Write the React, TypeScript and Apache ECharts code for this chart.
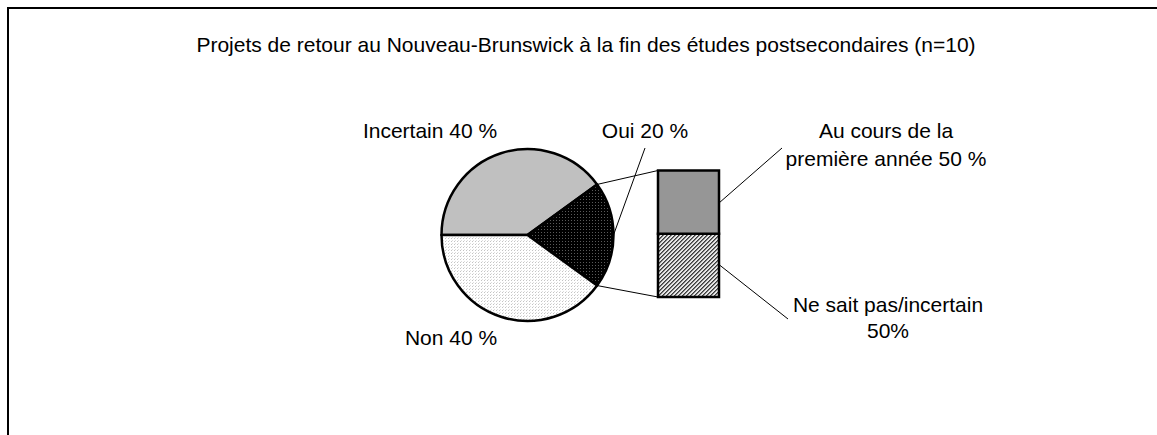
import React, { useEffect, useRef } from 'react';
import * as echarts from 'echarts';

const TITLE = 'Projets de retour au Nouveau-Brunswick à la fin des études postsecondaires (n=10)';
const pieNames = ['Incertain', 'Oui', 'Non'];
const pieValues = [40, 20, 40];
const barCategory = ['Oui'];
const barNames = ['Ne sait pas/incertain', 'Au cours de la\npremière année'];
const barValues = [50, 50];
const barLabelTexts = ['Ne sait pas/incertain\n50%', 'Au cours de la\npremière année 50 %'];

const FONT = "'Liberation Sans', Arial, Helvetica, sans-serif";

function makePattern(w: number, h: number, bg: string, px: [number, number, string][]) {
  const c = document.createElement('canvas');
  c.width = w;
  c.height = h;
  const ctx = c.getContext('2d')!;
  ctx.fillStyle = bg;
  ctx.fillRect(0, 0, w, h);
  px.forEach(([x, y, col]) => {
    ctx.fillStyle = col;
    ctx.fillRect(x, y, 1, 1);
  });
  return c;
}

export default function App() {
  const ref = useRef<HTMLDivElement>(null);
  useEffect(() => {
    if (!ref.current) return;
    const chart = echarts.init(ref.current, undefined, { renderer: 'svg' });

    const darkPat = makePattern(3, 3, '#000', [[0, 0, '#5a5a5a']]);
    const lightPat = makePattern(3, 3, '#fff', [[0, 0, '#c4c4c4'], [1, 2, '#dedede']]);
    const hatchPat = makePattern(4, 4, '#e6e6e6', [
      [0, 3, '#3c3c3c'], [1, 2, '#3c3c3c'], [2, 1, '#3c3c3c'], [3, 0, '#3c3c3c'],
      [0, 0, '#7a7a7a'], [1, 3, '#7a7a7a'], [2, 2, '#7a7a7a'], [3, 1, '#7a7a7a'],
    ]);

    const pieFills: any[] = [
      '#c0c0c0',
      { image: darkPat, repeat: 'repeat' },
      { image: lightPat, repeat: 'repeat' },
    ];
    const barFills: any[] = [{ image: hatchPat, repeat: 'repeat' }, '#969696'];

    // layout (chart coordinates)
    const cx = 520.5, cy = 228, R = 86;
    const gL = 651, gT = 163.5, gW = 61, gH = 126.5;

    const total = pieValues.reduce((a, b) => a + b, 0);
    const ouiIdx = 1;
    const before = pieValues.slice(0, ouiIdx).reduce((a, b) => a + b, 0);
    const a1 = ((180 - (before / total) * 360) * Math.PI) / 180;
    const a2 = ((180 - ((before + pieValues[ouiIdx]) / total) * 360) * Math.PI) / 180;
    const am = (a1 + a2) / 2;
    const p1 = [cx + R * Math.cos(a1), cy - R * Math.sin(a1)];
    const p2 = [cx + R * Math.cos(a2), cy - R * Math.sin(a2)];
    const pm = [cx + R * Math.cos(am), cy - R * Math.sin(am)];

    const barTotal = barValues.reduce((a, b) => a + b, 0);
    const botFrac = barValues[0] / barTotal;
    const midBottomY = gT + gH - (gH * botFrac) / 2;
    const midTopY = gT + (gH * (1 - botFrac)) / 2;

    // stacked segments: [categoryIndex, start, end, seriesIdx]
    let acc = 0;
    const segData = barValues.map((v, i) => {
      const d = [0, acc, acc + v, i];
      acc += v;
      return d;
    });

    const txt = (text: string, x: number, y: number, size: number, lh?: number) => ({
      type: 'text',
      x,
      y,
      silent: true,
      style: {
        text,
        fill: '#000',
        fontSize: size,
        fontFamily: FONT,
        align: 'center',
        textAlign: 'center',
        verticalAlign: 'middle',
        textVerticalAlign: 'middle',
        lineHeight: lh || size * 1.15,
      },
    });
    const ln = (x1: number, y1: number, x2: number, y2: number) => ({
      type: 'line',
      silent: true,
      shape: { x1, y1, x2, y2 },
      style: { stroke: '#000', lineWidth: 1 },
    });

    chart.setOption({
      animation: false,
      backgroundColor: '#fff',
      title: {
        text: TITLE,
        left: 579,
        top: 27,
        textAlign: 'center',
        padding: 0,
        textStyle: { fontSize: 21, fontWeight: 'normal', fontFamily: FONT, color: '#000' },
      },
      tooltip: { show: false },
      grid: { left: gL, top: gT, width: gW, height: gH },
      xAxis: { type: 'category', data: barCategory, show: false },
      yAxis: { type: 'value', min: 0, max: barTotal, show: false },
      series: [
        {
          type: 'pie',
          center: [cx, cy],
          radius: R,
          startAngle: 180,
          clockwise: true,
          silent: true,
          label: { show: false },
          labelLine: { show: false },
          itemStyle: { borderColor: '#000', borderWidth: 2.5 },
          emphasis: { disabled: true },
          data: pieNames.map((n, i) => ({ name: n, value: pieValues[i], itemStyle: { color: pieFills[i] } })),
        },
        {
          type: 'custom',
          name: 'segments',
          silent: true,
          data: segData,
          encode: { x: 0, y: [1, 2] },
          renderItem: (params: any, api: any) => {
            const cat = api.value(0);
            const s = api.value(1);
            const e = api.value(2);
            const idx = api.value(3);
            const pBase = api.coord([cat, s]);
            const pTop = api.coord([cat, e]);
            const w = api.size([1, 0])[0];
            return {
              type: 'rect',
              shape: { x: pBase[0] - w / 2, y: pTop[1], width: w, height: pBase[1] - pTop[1] },
              style: { fill: barFills[idx], stroke: '#000', lineWidth: 2.5 },
            };
          },
        },
      ],
      graphic: [
        {
          type: 'rect',
          silent: true,
          shape: { x: 1, y: 1, width: 3000, height: 3000 },
          style: { fill: 'none', stroke: '#000', lineWidth: 2 },
        },
        ln(p1[0], p1[1], gL, gT),
        ln(p2[0], p2[1], gL, gT + gH),
        ln(638, 141, pm[0], pm[1]),
        ln(gL + gW + 1, midTopY, 775, 141),
        ln(gL + gW + 1, midBottomY, 781, 312),
        txt(`${pieNames[0]} ${pieValues[0]} %`, 423, 123.6, 21),
        txt(`${pieNames[1]} ${pieValues[1]} %`, 638, 123.6, 21),
        txt(`${pieNames[2]} ${pieValues[2]} %`, 444, 330.6, 21),
        txt(barLabelTexts[1], 879, 137.5, 21, 28),
        txt(barLabelTexts[0], 881, 310.6, 21, 26),
      ],
    });
    return () => chart.dispose();
  }, []);
  return (
    <div
      ref={ref}
      style={{ position: 'absolute', left: 7, top: 7, width: 1150, height: 428 }}
    />
  );
}
